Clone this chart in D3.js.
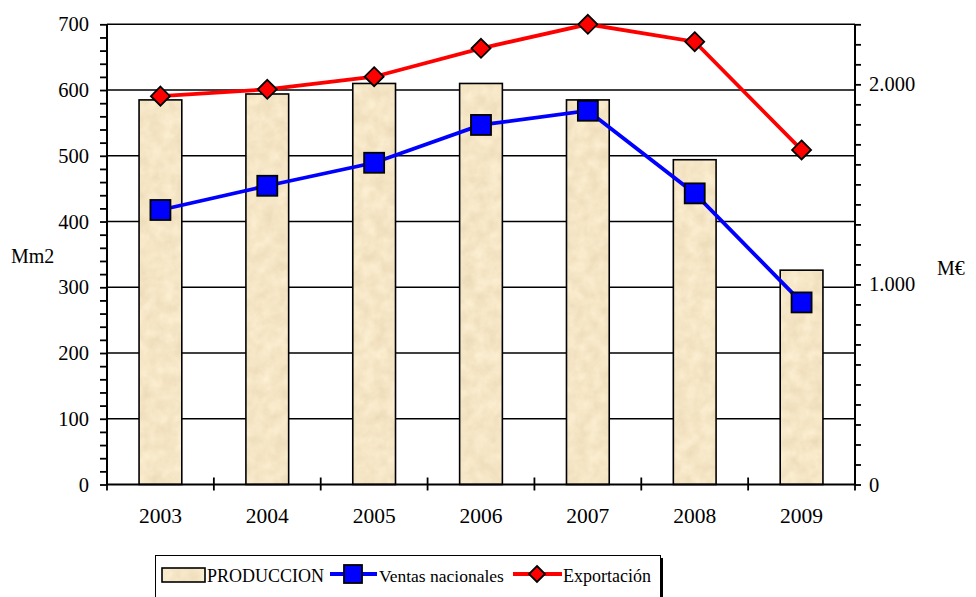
<!DOCTYPE html>
<html><head><meta charset="utf-8">
<script src="https://cdn.jsdelivr.net/npm/d3@7"></script>
</head><body style="margin:0">
<svg id="c" width="976" height="597" style="display:block"></svg>
<script>
const years = ["2003","2004","2005","2006","2007","2008","2009"];
const produccion = [585, 594, 610, 610, 585, 494, 326];
const ventasNacionales = [1372, 1493, 1608, 1797, 1868, 1455, 910];
const exportacion = [1941, 1975, 2038, 2180, 2300, 2213, 1672];
const leftTicks = [0,100,200,300,400,500,600,700];
const rightTicks = [0,1000,2000];

const FONT = "'Liberation Serif'";
const svg = d3.select("#c");
const L = 107, R = 855, T = 24.3, B = 484.5;
const BEIGE = "#f2e3c2";

const defs = svg.append("defs");
const f = defs.append("filter").attr("id","tex").attr("x",0).attr("y",0).attr("width",1).attr("height",1)
  .attr("color-interpolation-filters","sRGB");
f.append("feTurbulence").attr("type","fractalNoise").attr("baseFrequency","0.08").attr("numOctaves",3).attr("seed",4).attr("result","n");
f.append("feColorMatrix").attr("in","n").attr("type","matrix")
 .attr("values","-0.08 0 0 0 1.0  -0.10 0 0 0 0.95  -0.13 0 0 0 0.84  0 0 0 0 1").attr("result","c");
f.append("feComposite").attr("in","c").attr("in2","SourceGraphic").attr("operator","in");

const xb = d3.scaleBand().domain(years).range([L,R]);
const yL = d3.scaleLinear().domain([0,700]).range([B,T]);
const yR = d3.scaleLinear().domain([0,2300]).range([B,T]);

// gridlines
svg.append("g").selectAll("line").data(leftTicks.slice(1)).join("line")
  .attr("x1",L).attr("x2",R).attr("y1",d=>yL(d)).attr("y2",d=>yL(d))
  .attr("stroke","#000").attr("stroke-width",1.4);

// bars
const bw = xb.bandwidth()*0.4;
const bars = svg.append("g");
bars.selectAll("rect.f").data(years).join("rect").attr("class","f")
  .attr("x",(d)=>xb(d)+xb.bandwidth()/2-bw/2).attr("width",bw)
  .attr("y",(d,i)=>yL(produccion[i])).attr("height",(d,i)=>B-yL(produccion[i]))
  .attr("fill",BEIGE).attr("filter","url(#tex)");
bars.selectAll("rect.s").data(years).join("rect").attr("class","s")
  .attr("x",(d)=>xb(d)+xb.bandwidth()/2-bw/2).attr("width",bw)
  .attr("y",(d,i)=>yL(produccion[i])).attr("height",(d,i)=>B-yL(produccion[i]))
  .attr("fill","none").attr("stroke","#000").attr("stroke-width",1.6);

// axes
const gl = svg.append("g").attr("transform",`translate(${L},0)`)
  .call(d3.axisLeft(yL).tickValues(d3.range(0,701,20)).tickSize(7).tickFormat(""));
const gr = svg.append("g").attr("transform",`translate(${R},0)`)
  .call(d3.axisRight(yR).tickValues(d3.range(0,2301,100)).tickSize(6).tickFormat(""));
const gb = svg.append("g").attr("transform",`translate(0,${B})`)
  .call(d3.axisBottom(xb).tickValues([]).tickSizeOuter(0));
[gl,gr,gb].forEach(g=>{g.selectAll("path").attr("stroke","#000").attr("stroke-width",2);
  g.selectAll("line").attr("stroke","#000").attr("stroke-width",1.8);});
gl.select("path").attr("d",`M0,${T}V${B}`);
gr.select("path").attr("d",`M0,${T}V${B}`);
gb.select("path").attr("d",`M${L},0H${R}`);
svg.append("g").selectAll("line").data(years).join("line")
  .attr("x1",d=>xb(d)+xb.bandwidth()).attr("x2",d=>xb(d)+xb.bandwidth())
  .attr("y1",B-7).attr("y2",B+6).attr("stroke","#000").attr("stroke-width",1.8);
svg.append("line").attr("x1",L).attr("x2",L).attr("y1",B).attr("y2",B+6).attr("stroke","#000").attr("stroke-width",1.8);

// lines
const cx = d=>xb(d)+xb.bandwidth()/2;
const lineV = d3.line().x((d,i)=>cx(years[i])).y(d=>yR(d));
svg.append("path").datum(ventasNacionales).attr("d",lineV).attr("fill","none").attr("stroke","#0000ff").attr("stroke-width",3.8);
svg.append("path").datum(exportacion).attr("d",lineV).attr("fill","none").attr("stroke","#ff0000").attr("stroke-width",3.8);
const sq = 20;
svg.append("g").selectAll("rect").data(ventasNacionales).join("rect")
  .attr("x",(d,i)=>cx(years[i])-sq/2).attr("y",d=>yR(d)-sq/2).attr("width",sq).attr("height",sq)
  .attr("fill","#0000ff").attr("stroke","#000").attr("stroke-width",1.8);
const dm = 9.5;
svg.append("g").selectAll("path").data(exportacion).join("path")
  .attr("d",(d,i)=>{const X=cx(years[i]),Y=yR(d);return `M${X},${Y-dm}L${X+dm},${Y}L${X},${Y+dm}L${X-dm},${Y}Z`;})
  .attr("fill","#ff0000").attr("stroke","#000").attr("stroke-width",1.8);

// legend
const lg = svg.append("g");
lg.append("rect").attr("x",158).attr("y",558).attr("width",505).attr("height",60).attr("fill","#000");
lg.append("rect").attr("x",155.5).attr("y",555.5).attr("width",505).attr("height",60).attr("fill","#fff").attr("stroke","#000").attr("stroke-width",1);
lg.append("rect").attr("x",162).attr("y",568).attr("width",43).attr("height",14).attr("fill",BEIGE).attr("filter","url(#tex)");
lg.append("rect").attr("x",162).attr("y",568).attr("width",43).attr("height",14).attr("fill","none").attr("stroke","#000").attr("stroke-width",1.6);
lg.append("line").attr("x1",330).attr("x2",377).attr("y1",574).attr("y2",574).attr("stroke","#0000ff").attr("stroke-width",3.8);
lg.append("rect").attr("x",353-9).attr("y",574-9).attr("width",18).attr("height",18).attr("fill","#0000ff").attr("stroke","#000").attr("stroke-width",1.8);
lg.append("line").attr("x1",513).attr("x2",562).attr("y1",574).attr("y2",574).attr("stroke","#ff0000").attr("stroke-width",3.8);
lg.append("path").attr("d",`M537,${574-8}L545,574L537,${574+8}L529,574Z`).attr("fill","#ff0000").attr("stroke","#000").attr("stroke-width",1.8);

// texts
const fmt = d=> d===0?"0":d3.format(",")(d).replace(/,/g,".");
const texts = [];
leftTicks.forEach(d=>texts.push({x:89,y:yL(d)+7,a:"end",s:20.5,t:String(d)}));
rightTicks.forEach(d=>texts.push({x:869,y:yR(d)+7,a:"start",s:20.5,t:fmt(d)}));
years.forEach(d=>texts.push({x:cx(d),y:523,a:"middle",s:21.5,t:d}));
texts.push({x:11,y:263,a:"start",s:20,t:"Mm2"});
texts.push({x:937,y:275,a:"start",s:20,t:"M€"});
texts.push({x:207,y:582,a:"start",s:18,t:"PRODUCCION"});
texts.push({x:379,y:582,a:"start",s:17.5,t:"Ventas nacionales"});
texts.push({x:563,y:582,a:"start",s:18,t:"Exportación"});
svg.append("g").selectAll("text").data(texts).join("text")
  .attr("x",d=>d.x).attr("y",d=>d.y).attr("text-anchor",d=>d.a)
  .style("font-family",FONT).attr("font-size",d=>d.s).text(d=>d.t);
</script>
</body></html>
